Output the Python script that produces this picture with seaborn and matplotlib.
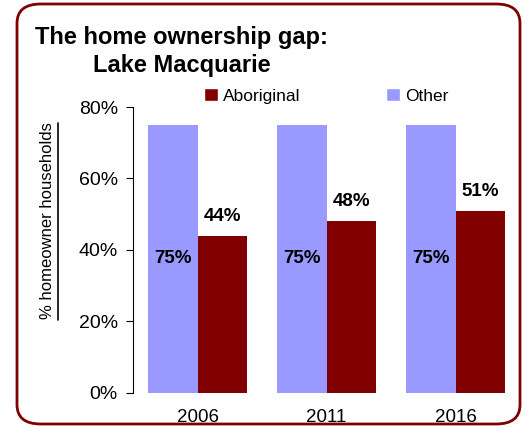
import matplotlib
matplotlib.use("Agg")
import matplotlib.pyplot as plt
import numpy as np
import pandas as pd
import seaborn as sns
from matplotlib.lines import Line2D
from matplotlib.patches import FancyBboxPatch, Patch
from matplotlib.ticker import FuncFormatter

years = ["2006", "2011", "2016"]
other = [75, 75, 75]
aboriginal = [44, 48, 51]
groups = ["Other", "Aboriginal"]
colors = {"Other": "#9999FF", "Aboriginal": "#800000"}

df = pd.DataFrame({
    "year": years * 2,
    "group": ["Other"] * 3 + ["Aboriginal"] * 3,
    "value": other + aboriginal,
})

sns.set_style("white")
plt.rcParams["font.family"] = ["Liberation Sans", "DejaVu Sans"]
plt.rcParams.update({"text.color": "black", "axes.labelcolor": "black",
                     "xtick.color": "black", "ytick.color": "black"})

fig = plt.figure(figsize=(5.28, 4.28), dpi=100)
ax = fig.add_axes([0.252, 0.082, 0.733, 0.668])

sns.barplot(data=df, x="year", y="value", hue="group", hue_order=groups, order=years,
            palette=colors, width=0.77, gap=0, saturation=1, errorbar=None, ax=ax, legend=False,
            linewidth=0, edgecolor="none")

for cont, grp in zip(ax.containers, groups):
    if grp == "Other":
        ax.bar_label(cont, labels=[f"{v}%" for v in other], label_type="center",
                     fontsize=13.5, fontweight="bold")
    else:
        ax.bar_label(cont, labels=[f"{v}%" for v in aboriginal], padding=8,
                     fontsize=13.5, fontweight="bold")

ax.set_ylim(0, 80)
ax.set_xlim(-0.5, 2.5)
ax.set_yticks([0, 20, 40, 60, 80])
ax.yaxis.set_major_formatter(FuncFormatter(lambda v, p: f"{v:.0f}%"))
ax.tick_params(axis="y", left=True, length=5, width=0.8, color="black", labelsize=14, pad=6)
ax.tick_params(axis="x", bottom=False, labelsize=13.5, pad=8)
ax.set_xlabel("")
ax.set_ylabel("")
for side in ["top", "right", "bottom"]:
    ax.spines[side].set_visible(False)
ax.spines["left"].set_color("black")
ax.spines["left"].set_linewidth(0.8)

# y label with underline
fig.text(48 / 528, 1 - 221 / 428, "% homeowner households", rotation=90, ha="center", va="center",
         fontsize=12)
fig.add_artist(Line2D([58 / 528, 58 / 528], [1 - 123 / 428, 1 - 320 / 428], color="black", lw=1.2,
                      transform=fig.transFigure))

# title
fig.text(35 / 528, 1 - 44 / 428, "The home ownership gap:", fontsize=17, fontweight="bold", va="baseline")
fig.text(93 / 528, 1 - 72 / 428, "Lake Macquarie", fontsize=17, fontweight="bold", va="baseline")

# legend
handles = [Patch(facecolor=colors["Aboriginal"], label="Aboriginal"),
           Patch(facecolor=colors["Other"], label="Other")]
fig.legend(handles=handles, loc="center left", bbox_to_anchor=(204 / 528, 1 - 96 / 428), ncol=2,
           frameon=False, handlelength=0.8, handleheight=0.8, handletextpad=0.3, columnspacing=4.9,
           prop={"size": 12.5}, borderpad=0, borderaxespad=0)

# rounded border
box = FancyBboxPatch((17 / 528, 4 / 428), 503 / 528, 420 / 428,
                     boxstyle="round,pad=0,rounding_size=0.045", transform=fig.transFigure,
                     facecolor="none", edgecolor="#800000", lw=2, clip_on=False)
fig.add_artist(box)

fig.savefig("out.png", dpi=100)
